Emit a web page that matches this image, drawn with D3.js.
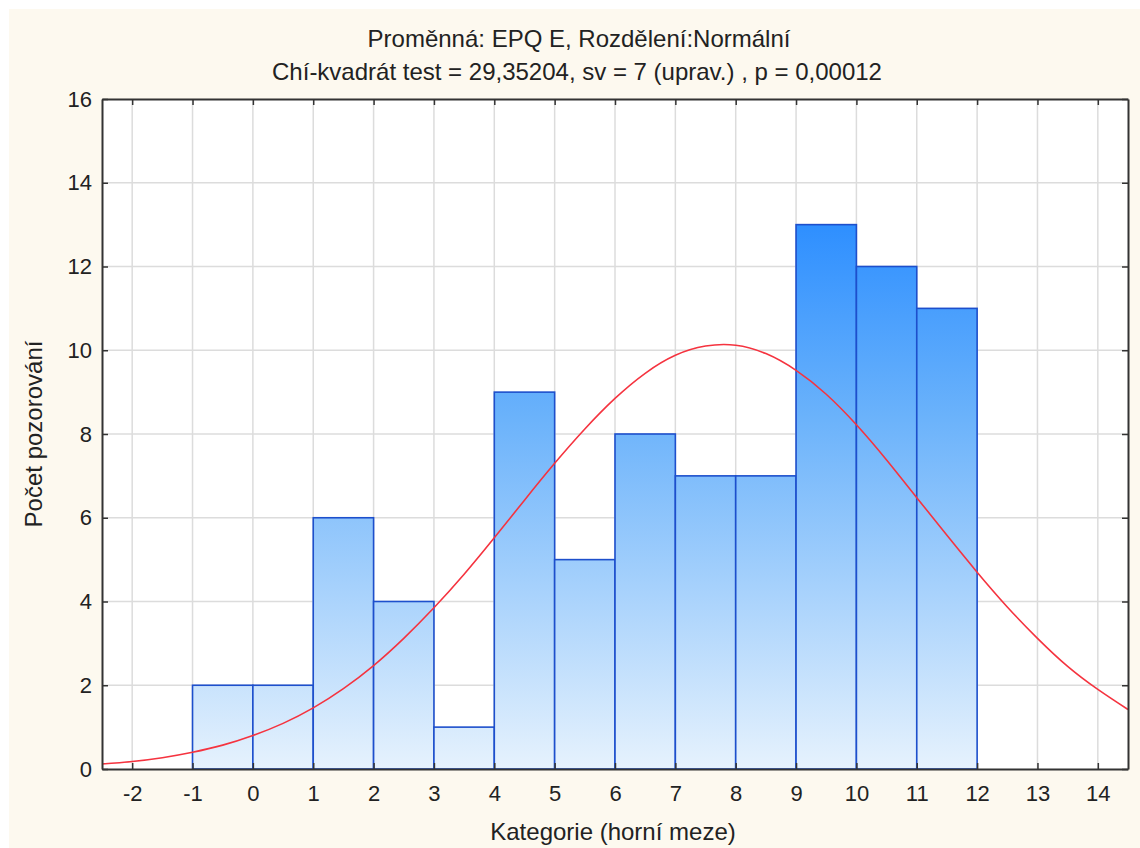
<!DOCTYPE html>
<html>
<head>
<meta charset="utf-8">
<script src="https://cdn.jsdelivr.net/npm/d3@7"></script>
<style>
  body { margin: 0; background: #fff; }
  text { font-family: "Liberation Sans", Arial, sans-serif; fill: #222; }
</style>
</head>
<body>
<div id="chart"></div>
<script>
// histogram bins (upper bound) and counts
var binUpper = [0, 1, 2, 3, 4, 5, 6, 7, 8, 9, 10, 11, 12];
var counts   = [2, 2, 6, 4, 1, 9, 5, 8, 7, 7, 13, 12, 11];

// fitted normal curve
var curveX = [-2.5, -2, -1.5, -1, -0.5, 0, 0.5, 1, 1.5, 2, 2.5, 3, 3.5, 4, 4.5, 5, 5.5, 6, 6.5, 7,
              7.5, 8, 8.5, 9, 9.5, 10, 10.5, 11, 11.5, 12, 12.5, 13, 13.5, 14, 14.5];
var curveY = [0.12, 0.18, 0.27, 0.40, 0.57, 0.80, 1.09, 1.46, 1.92, 2.47, 3.12, 3.85, 4.65, 5.52, 6.42, 7.30,
              8.12, 8.85, 9.45, 9.88, 10.10, 10.12, 9.92, 9.52, 8.95, 8.22, 7.38, 6.48, 5.58, 4.70,
              3.87, 3.12, 2.45, 1.90, 1.42];

var xTicks = [-2, -1, 0, 1, 2, 3, 4, 5, 6, 7, 8, 9, 10, 11, 12, 13, 14];
var yTicks = [0, 2, 4, 6, 8, 10, 12, 14, 16];

var W = 1140, H = 848;
var pLeft = 102, pTop = 99, pRight = 1128, pBottom = 769;

var svg = d3.select("#chart").append("svg")
            .attr("width", W)
            .attr("height", H);

svg.append("rect")
   .attr("x", 9).attr("y", 9)
   .attr("width", W - 9).attr("height", H - 9)
   .attr("fill", "#fdf9ef");

var x = d3.scaleLinear().domain([-2.5, 14.5]).range([pLeft, pRight]);
var y = d3.scaleLinear().domain([0, 16]).range([pBottom, pTop]);

svg.append("rect")
   .attr("x", pLeft).attr("y", pTop)
   .attr("width", pRight - pLeft).attr("height", pBottom - pTop)
   .attr("fill", "#fff");

// gradient for bars
var grad = svg.append("defs").append("linearGradient")
              .attr("id", "barGrad")
              .attr("gradientUnits", "userSpaceOnUse")
              .attr("x1", 0).attr("x2", 0)
              .attr("y1", y(13)).attr("y2", y(0));
grad.append("stop").attr("offset", "0%").attr("stop-color", "#2e8fff");
grad.append("stop").attr("offset", "35%").attr("stop-color", "#6ab2fb");
grad.append("stop").attr("offset", "100%").attr("stop-color", "#e6f2fd");

// grid
svg.append("g").selectAll("line")
   .data(xTicks).enter().append("line")
   .attr("x1", d => x(d)).attr("x2", d => x(d))
   .attr("y1", pTop).attr("y2", pBottom)
   .attr("stroke", "#dcdcdc").attr("stroke-width", 1.5);
svg.append("g").selectAll("line")
   .data(yTicks.slice(1, -1)).enter().append("line")
   .attr("x1", pLeft).attr("x2", pRight)
   .attr("y1", d => y(d)).attr("y2", d => y(d))
   .attr("stroke", "#dcdcdc").attr("stroke-width", 1.5);

// bars
svg.append("g").selectAll("rect")
   .data(counts).enter().append("rect")
   .attr("x", (d, i) => x(binUpper[i] - 1))
   .attr("y", d => y(d))
   .attr("width", (d, i) => x(binUpper[i]) - x(binUpper[i] - 1))
   .attr("height", d => y(0) - y(d))
   .attr("fill", "url(#barGrad)")
   .attr("stroke", "#1d4fcc")
   .attr("stroke-width", 1.6);

// normal curve
var line = d3.line()
             .x((d, i) => x(curveX[i]))
             .y(d => y(d))
             .curve(d3.curveNatural);
svg.append("path")
   .datum(curveY)
   .attr("d", line)
   .attr("fill", "none")
   .attr("stroke", "#f5333f")
   .attr("stroke-width", 1.6);

// axes with inward ticks
var fmt = d => String(d);
var frame = svg.append("g");
frame.append("g")
     .attr("transform", "translate(0," + pBottom + ")")
     .call(d3.axisBottom(x).tickValues(xTicks).tickSizeInner(-6).tickSizeOuter(0).tickPadding(16).tickFormat(fmt));
frame.append("g")
     .attr("transform", "translate(0," + pTop + ")")
     .call(d3.axisTop(x).tickValues(xTicks).tickSizeInner(-6).tickSizeOuter(0).tickFormat(""));
frame.append("g")
     .attr("transform", "translate(" + pLeft + ",0)")
     .call(d3.axisLeft(y).tickValues(yTicks).tickSizeInner(-6).tickSizeOuter(0).tickPadding(10).tickFormat(fmt));
frame.append("g")
     .attr("transform", "translate(" + pRight + ",0)")
     .call(d3.axisRight(y).tickValues(yTicks).tickSizeInner(-6).tickSizeOuter(0).tickFormat(""));

frame.selectAll(".domain").attr("stroke", "#333").attr("stroke-width", 2);
frame.selectAll(".tick line").attr("stroke", "#333").attr("stroke-width", 1.5);
frame.selectAll(".tick text")
     .attr("font-family", "Liberation Sans, Arial, sans-serif")
     .attr("font-size", 22)
     .attr("fill", "#222");

// titles
svg.append("text")
   .attr("x", 579).attr("y", 47)
   .attr("text-anchor", "middle")
   .attr("font-size", 24)
   .text("Proměnná: EPQ E, Rozdělení:Normální");
svg.append("text")
   .attr("x", 577).attr("y", 80)
   .attr("text-anchor", "middle")
   .attr("font-size", 24)
   .text("Chí-kvadrát test = 29,35204, sv = 7 (uprav.) , p = 0,00012");

svg.append("text")
   .attr("x", 613).attr("y", 840)
   .attr("text-anchor", "middle")
   .attr("font-size", 24)
   .text("Kategorie (horní meze)");

svg.append("text")
   .attr("transform", "translate(42," + ((pTop + pBottom) / 2) + ") rotate(-90)")
   .attr("text-anchor", "middle")
   .attr("font-size", 24)
   .text("Počet pozorování");
</script>
</body>
</html>
